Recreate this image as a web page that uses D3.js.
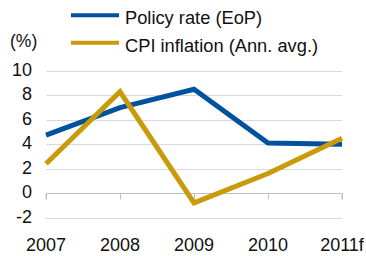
<!DOCTYPE html>
<html>
<head>
<meta charset="utf-8">
<script src="https://cdn.jsdelivr.net/npm/d3@7"></script>
<style>
  body { margin: 0; background: #fff; }
  text { font-family: "Liberation Sans", Arial, sans-serif; fill: #111; }
</style>
</head>
<body>
<svg id="chart" width="366" height="256"></svg>
<script>
(function() {
  'use strict';

  var years = ['2007', '2008', '2009', '2010', '2011f'];
  var policyRate = [4.75, 7.0, 8.5, 4.1, 4.0];
  var cpiInflation = [2.4, 8.3, -0.8, 1.6, 4.5];
  var yTicks = [-2, 0, 2, 4, 6, 8, 10];
  var seriesNames = ['Policy rate (EoP)', 'CPI inflation (Ann. avg.)'];
  var seriesColors = ['#00529f', '#c99a0a'];

  var svg = d3.select('#chart');

  var x = d3.scalePoint().domain(years).range([46, 342]);
  var y = d3.scaleLinear().domain([-2, 10]).range([217.5, 71]);

  // gridlines
  svg.append('g')
    .selectAll('line')
    .data(yTicks.filter(function(d) { return d !== 0; }))
    .join('line')
    .attr('x1', 46).attr('x2', 342)
    .attr('y1', function(d) { return Math.round(y(d)) + 0.5; })
    .attr('y2', function(d) { return Math.round(y(d)) + 0.5; })
    .attr('stroke', '#d9d9d9')
    .attr('stroke-width', 1);

  // y labels
  svg.append('g')
    .selectAll('text')
    .data(yTicks)
    .join('text')
    .attr('x', 32)
    .attr('y', function(d) { return y(d) + 5; })
    .attr('text-anchor', 'end')
    .style('font-size', '18px')
    .text(function(d) { return d; });

  // x axis on zero line
  var xAxis = d3.axisBottom(x).tickSize(6).tickFormat('');
  var ax = svg.append('g')
    .attr('transform', 'translate(0,' + (Math.round(y(0)) + 0.5) + ')')
    .call(xAxis);
  ax.select('.domain').attr('stroke', '#c0c0c0').attr('d', 'M46,6V0H342V6');
  ax.selectAll('.tick line').attr('stroke', '#c0c0c0');

  svg.append('g')
    .selectAll('text')
    .data(years)
    .join('text')
    .attr('x', function(d) { return x(d); })
    .attr('y', 251)
    .attr('text-anchor', 'middle')
    .style('font-size', '18px')
    .text(function(d) { return d; });

  svg.append('text')
    .attr('x', 10).attr('y', 46.5)
    .style('font-size', '17.5px')
    .text('(%)');

  var line = d3.line()
    .x(function(d, i) { return x(years[i]); })
    .y(function(d) { return y(d); });

  [policyRate, cpiInflation].forEach(function(s, i) {
    svg.append('path')
      .datum(s)
      .attr('d', line)
      .attr('fill', 'none')
      .attr('stroke', seriesColors[i])
      .attr('stroke-width', 5)
      .attr('stroke-linejoin', 'miter');
  });

  // legend
  var legend = svg.append('g')
    .selectAll('g')
    .data(seriesNames)
    .join('g')
    .attr('transform', function(d, i) { return 'translate(71,' + (15.3 + i * 27.5) + ')'; });
  legend.append('line')
    .attr('x1', 0).attr('x2', 48)
    .attr('stroke', function(d, i) { return seriesColors[i]; })
    .attr('stroke-width', 4);
  legend.append('text')
    .attr('x', 54).attr('y', 9)
    .style('font-size', '18.3px')
    .text(function(d) { return d; });
}).call(this);
</script>
</body>
</html>
